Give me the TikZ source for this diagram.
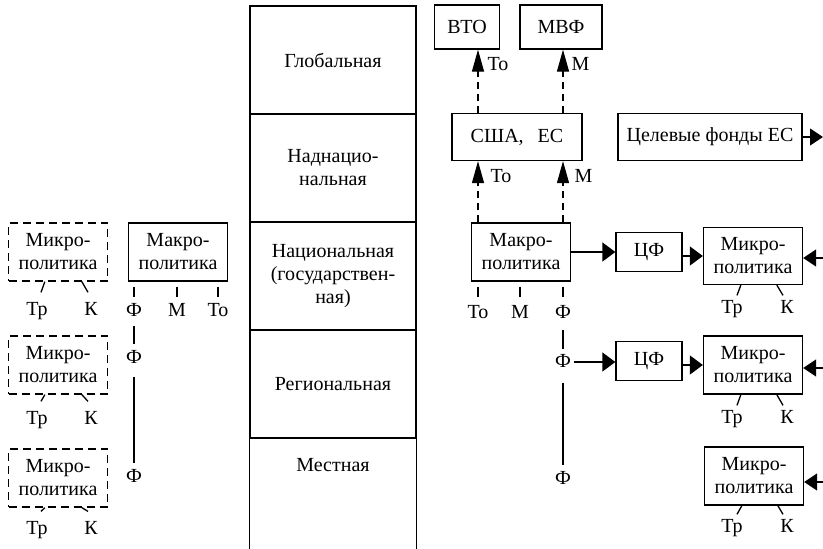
\documentclass[tikz,border=0pt]{standalone}
\usepackage{fontspec}
\setmainfont{Liberation Serif}
\usepackage{tikz}
\usetikzlibrary{positioning, arrows.meta}

\begin{document}
\begin{tikzpicture}[x=1pt, y=-1pt, line width=1.3pt,
    every node/.style={font=\fontsize{20}{23}\selectfont, align=center, inner sep=2pt},
    box/.style={draw, rectangle, minimum width=99pt, minimum height=58pt},
    dbox/.style={box, dash pattern=on 8pt off 5pt},
    lvl/.style={draw, rectangle, minimum width=166pt, minimum height=108pt},
    lbl/.style={text height=13pt, text depth=3pt},
    harr/.style={-{Triangle[length=13pt, width=19pt]}},
    larr/.style={-{Triangle[length=13pt, width=17pt]}},
    varr/.style={-{Triangle[length=22pt, width=12pt]}},
    dsh/.style={dash pattern=on 7pt off 5pt},
    tick/.style={dash pattern=on 10pt off 10pt, dash phase=15pt}]
    \useasboundingbox (0,0) rectangle (823,549);

    % Levels
    \node[lvl] (glob) at (333,60) {Глобальная};
    \node[lvl] (supra) at (333,168) {Наднацио-\\нальная};
    \node[lvl] (nat) at (333,276) {Национальная\\(государствен-\\ная)};
    \node[lvl] (reg) at (333,384) {Региональная};
    \node (loc) at (333,465) {Местная};
    \draw (reg.south west) -- ++(0,111);
    \draw (reg.south east) -- ++(0,111);

    % Left part
    \node[dbox] (mic1) at (58,252) {Микро-\\политика};
    \node[box] (mac1) at (178,252) {Макро-\\политика};
    \node[dbox] (mic2) at (58,365) {Микро-\\политика};
    \node[dbox] (mic3) at (58,478) {Микро-\\политика};

    \node[lbl] (tr1) at (37,310) {Тр};
    \node[lbl] (k1) at (91,310) {К};
    \node[lbl] (tr2) at (37,419) {Тр};
    \node[lbl] (k2) at (91,419) {К};
    \node[lbl] (tr3) at (37,529) {Тр};
    \node[lbl] (k3) at (91,529) {К};

    \node[lbl] (fL1) at (134,311) {Ф};
    \node[lbl] (mL) at (177,311) {М};
    \node[lbl] (toL) at (218,311) {То};
    \node[lbl] (fL2) at (134,358) {Ф};
    \node[lbl] (fL3) at (134,477) {Ф};

    % Right part
    \node[box, minimum width=65pt, minimum height=44pt] (vto) at (467,27) {ВТО};
    \node[box, minimum width=82pt, minimum height=44pt] (mvf) at (561,27) {МВФ};
    \node[box, minimum width=130pt, minimum height=47pt] (usa) at (517,137) {США, \hspace{9pt}ЕС};
    \node[box, minimum width=184pt, minimum height=47pt] (fund) at (710,137) {Целевые фонды ЕС};
    \node[box] (mac2) at (521,252) {Макро-\\политика};
    \node[box, minimum width=66pt, minimum height=39pt] (cf1) at (649,252) {ЦФ};
    \node[box, minimum height=57pt] (mic4) at (753,256) {Микро-\\политика};
    \node[box, minimum width=66pt, minimum height=39pt] (cf2) at (649,361) {ЦФ};
    \node[box] (mic5) at (753,365) {Микро-\\политика};
    \node[box] (mic6) at (754,476) {Микро-\\политика};

    \node[lbl] (tr4) at (732,308) {Тр};
    \node[lbl] (k4) at (787,308) {К};
    \node[lbl] (tr5) at (732,418) {Тр};
    \node[lbl] (k5) at (787,418) {К};
    \node[lbl] (tr6) at (732,527) {Тр};
    \node[lbl] (k6) at (787,527) {К};

    \node[lbl] (toR) at (478,313) {То};
    \node[lbl] (mR) at (520,313) {М};
    \node[lbl] (fR1) at (563,313) {Ф};
    \node[lbl] (fR2) at (563,362) {Ф};
    \node[lbl] (fR3) at (563,479) {Ф};

    \node[lbl, anchor=west] (toA) at (485,65) {То};
    \node[lbl, anchor=west] (mA) at (569,65) {М};
    \node[lbl, anchor=west] (toB) at (488,177) {То};
    \node[lbl, anchor=west] (mB) at (572,177) {М};

    \coordinate (ax1) at (478,0);
    \coordinate (ax2) at (563,0);
    \coordinate (efund) at (823,137);
    \coordinate (e4) at (823,258);
    \coordinate (e5) at (823,368);
    \coordinate (e6) at (823,482);

    % Arrows
    \draw[dsh, varr] (mac2.north -| ax1) -- (usa.south -| ax1);
    \draw[dsh, varr] (mac2.north -| ax2) -- (usa.south -| ax2);
    \draw[dsh, varr] (usa.north -| ax1) -- (vto.south -| ax1);
    \draw[dsh, varr] (usa.north -| ax2) -- (mvf.south -| ax2);

    \draw[harr] (mac2) -- (cf1);
    \draw[harr] (cf1.east |- mic4) -- (mic4.west);
    \draw[harr] (fR2.east) -- (fR2.east -| cf2.west);
    \draw[harr] (cf2.east |- mic5) -- (mic5.west);
    \draw[larr] (fund.east) -- (efund);
    \draw[larr] (e4) -- (mic4.east |- e4);
    \draw[larr] (e5) -- (mic5.east |- e5);
    \draw[larr] (e6) -- (mic6.east |- e6);

    % Ticks under macro
    \draw[tick] (mac1.south -| fL1) -- (fL1.north);
    \draw[tick] (mac1.south -| mL) -- (mL.north);
    \draw[tick] (mac1.south -| toL) -- (toL.north);
    \draw[tick] (mac2.south -| toR) -- (toR.north);
    \draw[tick] (mac2.south -| mR) -- (mR.north);
    \draw[tick] (mac2.south -| fR1) -- (fR1.north);

    % Finance lines
    \draw[shorten <=4pt, shorten >=3pt] (fL1) -- (fL2);
    \draw[shorten <=8pt, shorten >=3pt] (fL2) -- (fL3);
    \draw[shorten <=6pt, shorten >=2pt] (fR1) -- (fR2);
    \draw[shorten <=10pt, shorten >=3pt] (fR2) -- (fR3);

    % Tr and K
    \draw ([xshift=37pt]mic1.south west) -- ([xshift=4pt, yshift=7pt]tr1.north);
    \draw ([xshift=74pt]mic1.south west) -- ([xshift=-3pt, yshift=7pt]k1.north);
    \draw ([xshift=37pt]mic2.south west) -- ([xshift=4pt, yshift=7pt]tr2.north);
    \draw ([xshift=74pt]mic2.south west) -- ([xshift=-3pt, yshift=7pt]k2.north);
    \draw ([xshift=37pt]mic3.south west) -- ([xshift=4pt, yshift=7pt]tr3.north);
    \draw ([xshift=74pt]mic3.south west) -- ([xshift=-3pt, yshift=7pt]k3.north);
    \draw ([xshift=38pt]mic4.south west) -- ([xshift=5pt, yshift=2pt]tr4.north);
    \draw ([xshift=74pt]mic4.south west) -- ([xshift=-4pt, yshift=2pt]k4.north);
    \draw ([xshift=38pt]mic5.south west) -- ([xshift=5pt, yshift=2pt]tr5.north);
    \draw ([xshift=74pt]mic5.south west) -- ([xshift=-4pt, yshift=2pt]k5.north);
    \draw ([xshift=38pt]mic6.south west) -- ([xshift=5pt, yshift=2pt]tr6.north);
    \draw ([xshift=74pt]mic6.south west) -- ([xshift=-4pt, yshift=2pt]k6.north);
\end{tikzpicture}
\end{document}
